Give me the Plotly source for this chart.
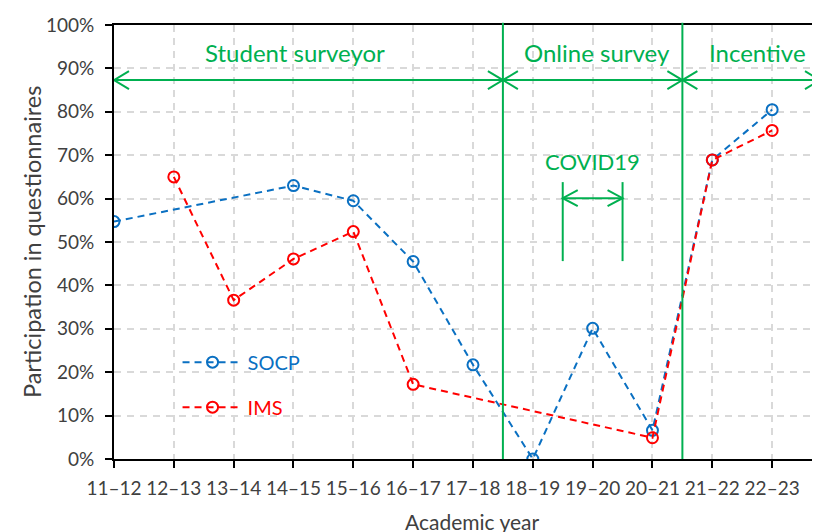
import plotly.graph_objects as go

years = ["11–12", "12–13", "13–14", "14–15", "15–16", "16–17", "17–18",
         "18–19", "19–20", "20–21", "21–22", "22–23"]
socp = [54.7, None, None, 63.0, 59.5, 45.5, 21.7, 0.0, 30.1, 6.6, 68.9, 80.5]
ims = [None, 65.0, 36.6, 46.1, 52.4, 17.2, None, None, None, 4.9, 68.9, 75.7]

phase_names = ["Student surveyor", "Online survey", "Incentive"]
phase_bounds = [0, 6.5, 9.5, 11.8]
phase_label_x = [3.03, 8.07, 10.76]
phase_arrow_y = 87.3
phase_label_y = 93.7
covid_span = [7.5, 8.5]
covid_arrow_y = 60.1
covid_line_y = [45.6, 63.8]
covid_label_y = 68.6

BLUE = "#0a70c2"
RED = "#ff0000"
GREEN = "#00b050"
FONT = "Lato"
TXT = "#404040"

fig = go.Figure()
fig.add_trace(go.Scatter(
    x=years, y=socp, mode="lines+markers", connectgaps=True,
    name=f"<span style='color:{BLUE}'>SOCP</span>", legendgroup="a",
    line=dict(color=BLUE, width=2, dash="7px,5px"),
    marker=dict(symbol="circle-open", size=11, line=dict(width=2, color=BLUE)),
))
fig.add_trace(go.Scatter(
    x=years, y=ims, mode="lines+markers", connectgaps=True,
    name=f"<span style='color:{RED}'>IMS</span>", legendgroup="b",
    line=dict(color=RED, width=2, dash="7px,5px"),
    marker=dict(symbol="circle-open", size=11, line=dict(width=2, color=RED)),
))

shapes = []
# phase dividers
for b in phase_bounds[1:-1]:
    shapes.append(dict(type="line", xref="x", yref="paper", x0=b, x1=b, y0=0, y1=1.005,
                       line=dict(color=GREEN, width=2)))
# main horizontal arrow line
shapes.append(dict(type="line", xref="x", yref="y", x0=phase_bounds[0], x1=phase_bounds[-1],
                   y0=phase_arrow_y, y1=phase_arrow_y, line=dict(color=GREEN, width=2)))


def chevron(xpos, ypos, direction, L=15, W=9):
    # direction=-1 -> tip at left ("<"), +1 -> tip at right (">")
    d = -direction
    path = f"M {d*L},{W} L 0,0 L {d*L},{-W}"
    return dict(type="path", xref="x", yref="y", xsizemode="pixel", ysizemode="pixel",
                xanchor=xpos, yanchor=ypos, path=path, line=dict(color=GREEN, width=2))


for i in range(len(phase_bounds) - 1):
    shapes.append(chevron(phase_bounds[i], phase_arrow_y, -1))
    shapes.append(chevron(phase_bounds[i + 1], phase_arrow_y, 1))

# COVID bracket
for cx in covid_span:
    shapes.append(dict(type="line", xref="x", yref="y", x0=cx, x1=cx,
                       y0=covid_line_y[0], y1=covid_line_y[1], line=dict(color=GREEN, width=2)))
shapes.append(dict(type="line", xref="x", yref="y", x0=covid_span[0], x1=covid_span[1],
                   y0=covid_arrow_y, y1=covid_arrow_y, line=dict(color=GREEN, width=2)))
shapes.append(chevron(covid_span[0], covid_arrow_y, -1, L=15, W=8))
shapes.append(chevron(covid_span[1], covid_arrow_y, 1, L=15, W=8))

annotations = []
for name, lx in zip(phase_names, phase_label_x):
    annotations.append(dict(x=lx, y=phase_label_y, xref="x", yref="y", text=name,
                            showarrow=False, font=dict(family=FONT, size=24, color=GREEN)))
annotations.append(dict(x=sum(covid_span) / 2, y=covid_label_y, xref="x", yref="y",
                        text="COVID19", showarrow=False,
                        font=dict(family=FONT, size=22, color=GREEN)))
annotations.append(dict(x=0.507, y=-0.110, xref="paper", yref="paper", yanchor="top",
                        text="Academic year", showarrow=False,
                        font=dict(family=FONT, size=21, color=TXT)))
annotations.append(dict(x=-0.116, y=0.5, xref="paper", yref="paper", xanchor="center",
                        yanchor="middle", textangle=-90,
                        text="Participation in questionnaires", showarrow=False,
                        font=dict(family=FONT, size=23.5, color=TXT)))

# the page body adds an 8px offset, so the figure is sized to end at the window edge
fig.update_layout(
    width=812, height=524,
    margin=dict(l=106, r=0, t=17, b=73),
    paper_bgcolor="white", plot_bgcolor="white",
    font=dict(family=FONT, size=19, color=TXT),
    shapes=shapes, annotations=annotations,
    legend=dict(x=0.09, y=0.268, xanchor="left", yanchor="top",
                bgcolor="rgba(0,0,0,0)", traceorder="grouped", tracegroupgap=16,
                font=dict(family=FONT, size=20), itemwidth=60),
    showlegend=True,
)
fig.update_xaxes(
    type="category", range=[0, 11.8], automargin=False,
    showline=True, linecolor="black", linewidth=2, mirror=True,
    ticks="outside", ticklen=7, tickcolor="black", tickwidth=2,
    ticklabelstandoff=4,
    showgrid=True, gridcolor="#d9d9d9", gridwidth=1.5, griddash="7px,6px",
    tickfont=dict(family=FONT, size=19, color=TXT),
    zeroline=False,
)
fig.update_yaxes(
    range=[0, 100], dtick=10, ticksuffix="%", automargin=False,
    showline=True, linecolor="black", linewidth=2,
    ticks="outside", ticklen=7, tickcolor="black", tickwidth=2,
    ticklabelstandoff=7,
    showgrid=True, gridcolor="#d9d9d9", gridwidth=1.5, griddash="7px,6px",
    tickfont=dict(family=FONT, size=19, color=TXT),
    zeroline=False,
)

fig.write_html("out.html")
